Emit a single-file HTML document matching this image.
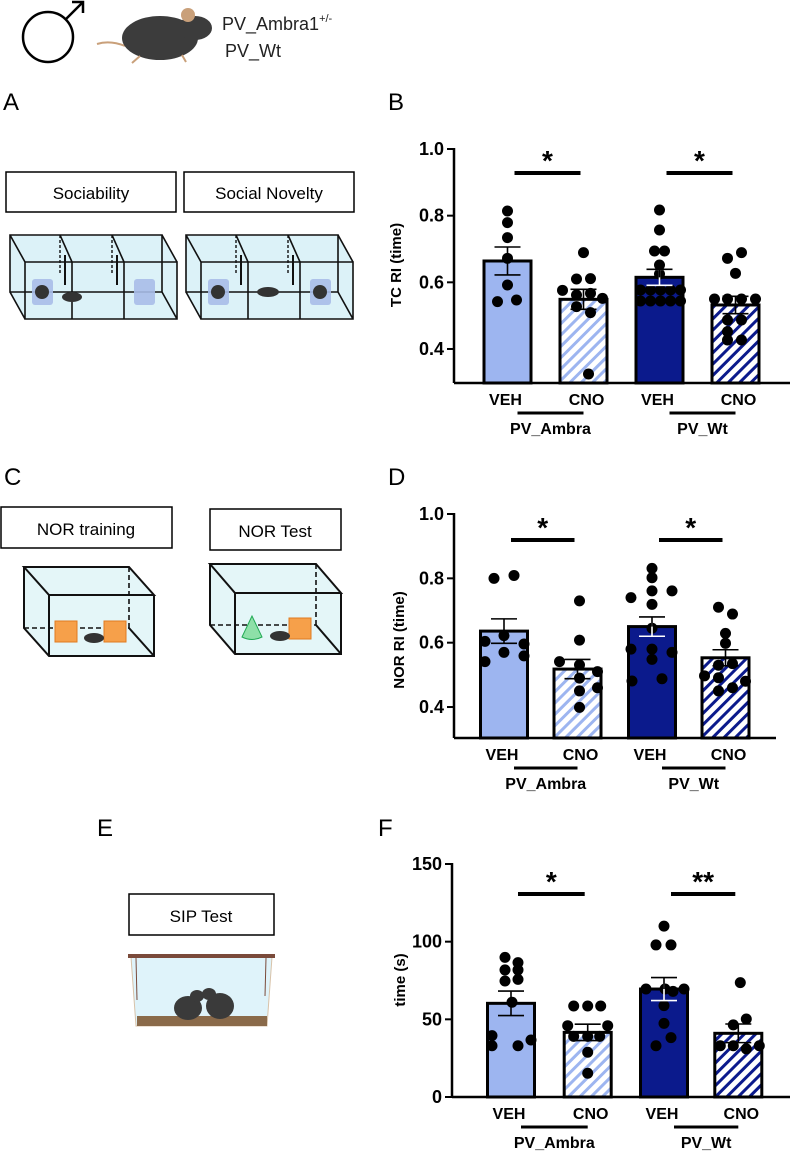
<!DOCTYPE html>
<html><head><meta charset="utf-8"><style>
html,body{margin:0;padding:0;background:#fff;}
svg{display:block;font-family:"Liberation Sans",Arial,sans-serif;}
.tk{font-weight:bold;font-size:18px;}
.xl{font-weight:bold;font-size:16px;}
.pl{font-size:24px;}
</style></head><body>
<svg id="fig" width="791" height="1154" viewBox="0 0 791 1154" xmlns="http://www.w3.org/2000/svg">
<defs>
<pattern id="hatchL" patternUnits="userSpaceOnUse" width="8" height="8" patternTransform="rotate(45)"><rect width="8" height="8" fill="#fff"/><rect width="3" height="8" fill="#9db5f0"/></pattern>
<pattern id="hatchD" patternUnits="userSpaceOnUse" width="8" height="8" patternTransform="rotate(45)"><rect width="8" height="8" fill="#fff"/><rect width="3" height="8" fill="#0b1a8c"/></pattern>
</defs>

<g>
<circle cx="48" cy="37" r="25" fill="none" stroke="#000" stroke-width="2.5"/>
<line x1="66" y1="19" x2="83" y2="2" stroke="#000" stroke-width="2.5"/>
<polyline points="72,2 83,2 83,13" fill="none" stroke="#000" stroke-width="2.5"/>
<g>
<path d="M97,44 Q110,40 125,46" stroke="#c9a07a" stroke-width="2" fill="none"/>
<ellipse cx="160" cy="38" rx="38" ry="22" fill="#3c3c3c"/>
<ellipse cx="195" cy="28" rx="17" ry="12" fill="#3c3c3c"/>
<ellipse cx="188" cy="15" rx="7" ry="7" fill="#c9a07a"/>
<path d="M140,56 l-8,7 M182,55 l4,7" stroke="#c9a07a" stroke-width="2"/>
</g>
<text x="222" y="30" font-size="18" fill="#222">PV_Ambra1<tspan font-size="11" dy="-8">+/-</tspan></text>
<text x="225" y="57" font-size="18" fill="#222">PV_Wt</text>
</g>

<text x="3" y="110" class="pl">A</text>
<text x="388" y="110" class="pl">B</text>
<text x="4" y="485" class="pl">C</text>
<text x="388" y="485" class="pl">D</text>
<text x="97" y="836" class="pl">E</text>
<text x="378" y="836" class="pl">F</text>

<g>
<rect x="6" y="172" width="170" height="40" fill="#fff" stroke="#000" stroke-width="1.5"/>
<text x="91" y="199" text-anchor="middle" font-size="17">Sociability</text>
<rect x="184" y="172" width="170" height="40" fill="#fff" stroke="#000" stroke-width="1.5"/>
<text x="269" y="199" text-anchor="middle" font-size="17">Social Novelty</text>
<g id="cages"></g>
</g>

<g>
<rect x="1" y="507" width="171" height="41" fill="#fff" stroke="#000" stroke-width="1.5"/>
<text x="86" y="535" text-anchor="middle" font-size="17">NOR training</text>
<rect x="210" y="509" width="131" height="41" fill="#fff" stroke="#000" stroke-width="1.5"/>
<text x="275" y="537" text-anchor="middle" font-size="17">NOR Test</text>
<g id="norcages"></g>
</g>

<g>
<rect x="129" y="894" width="145" height="41" fill="#fff" stroke="#000" stroke-width="1.5"/>
<text x="201" y="922" text-anchor="middle" font-size="17">SIP Test</text>
<path d="M131,957 L136,1026 L267,1026 L272,957 Z" fill="#dff3fa" stroke="#d8c2a8" stroke-width="1"/>
<rect x="137" y="1016" width="130" height="10" fill="#8a6a4a"/>
<rect x="128" y="954" width="147" height="4" fill="#7a4a3a"/>
<line x1="136" y1="958" x2="137" y2="1000" stroke="#7a4a3a"/>
<line x1="266" y1="958" x2="265" y2="996" stroke="#7a4a3a"/>
<ellipse cx="188" cy="1008" rx="14" ry="12" fill="#3a3a3a"/>
<ellipse cx="197" cy="996" rx="7" ry="6" fill="#3a3a3a"/>
<ellipse cx="220" cy="1006" rx="14" ry="13" fill="#3a3a3a"/>
<ellipse cx="209" cy="994" rx="7" ry="6" fill="#3a3a3a"/>
</g>

<g id="chartB"></g>
<g id="chartD"></g>
<g id="chartF"></g>
</svg>
<script>
const NS='http://www.w3.org/2000/svg';
function mk(p,tag,at){const e=document.createElementNS(NS,tag);for(const k in at)e.setAttribute(k,at[k]);p.appendChild(e);return e;}

(function(){
 const g=document.getElementById('cages');
 function cage3(ox){
  const bx=ox, by=235, fx=ox+15, fy=262, w=152, h=57;
  mk(g,'path',{d:`M${bx},${by} L${bx+w},${by} L${fx+w},${fy} L${fx+w},${fy+h} L${fx},${fy+h} L${bx},${by+h} Z`,fill:'#dcf2f8',stroke:'none'});
  mk(g,'path',{d:`M${bx},${by} L${bx+w},${by} L${bx+w},${by+h} L${bx},${by+h} Z M${fx},${fy} L${fx+w},${fy} L${fx+w},${fy+h} L${fx},${fy+h} Z M${bx},${by} L${fx},${fy} M${bx+w},${by} L${fx+w},${fy} M${bx},${by+h} L${fx},${fy+h} M${bx+w},${by+h} L${fx+w},${fy+h}`,fill:'none',stroke:'#111','stroke-width':1.6});
  [47,99].forEach(d=>{
   mk(g,'line',{x1:fx+d,y1:fy,x2:fx+d,y2:fy+h,stroke:'#111','stroke-width':1.6});
   mk(g,'line',{x1:bx+d+3,y1:by,x2:fx+d,y2:fy,stroke:'#111','stroke-width':1.6});
   mk(g,'line',{x1:bx+d+3,y1:by,x2:bx+d+3,y2:by+40,stroke:'#111','stroke-width':1.4,'stroke-dasharray':'3,2'});
   mk(g,'line',{x1:bx+d+8,y1:by+20,x2:bx+d+8,y2:by+50,stroke:'#111','stroke-width':2});
  });
 }
 cage3(10); cage3(186);
 [[42,1],[144,0],[218,1],[320,1]].forEach(c=>{
  mk(g,'rect',{x:c[0]-10,y:279,width:21,height:26,rx:3,fill:'#a8bde8',opacity:0.9});
  if(c[1])mk(g,'ellipse',{cx:c[0],cy:292,rx:7,ry:7,fill:'#333'});
 });
 mk(g,'ellipse',{cx:72,cy:297,rx:10,ry:5,fill:'#333'});
 mk(g,'ellipse',{cx:268,cy:292,rx:11,ry:5,fill:'#333'});
 const n=document.getElementById('norcages');
 function box(bx,by,fx,fy,w,h,bb){
  mk(n,'path',{d:`M${bx},${by} L${bx+w},${by} L${fx+w},${fy} L${fx+w},${fy+h} L${fx},${fy+h} L${bx},${bb} Z`,fill:'#e4f6f8'});
  mk(n,'path',{d:`M${bx},${by} L${bx+w},${by} L${fx+w},${fy} L${fx},${fy} Z M${bx},${by} L${bx},${bb} L${fx},${fy+h} L${fx+w},${fy+h} L${fx+w},${fy} M${fx},${fy} L${fx},${fy+h} M${bx+w},${bb} L${fx+w},${fy+h}`,fill:'none',stroke:'#111','stroke-width':2});
  mk(n,'path',{d:`M${bx},${bb} L${bx+w},${bb} M${bx+w},${by} L${bx+w},${bb}`,fill:'none',stroke:'#111','stroke-width':1.6,'stroke-dasharray':'5,3'});
 }
 box(24,567,49,595,105,61,628);
 box(210,564,235,593,106,61,625);
 [[55,621],[104,621],[289,618]].forEach(c=>mk(n,'rect',{x:c[0],y:c[1],width:22,height:21,fill:'#f6a04a',stroke:'#e07a20'}));
 mk(n,'path',{d:'M252,616 L242,637 Q252,642 262,637 Z',fill:'#8ee0a8',stroke:'#22aa55'});
 mk(n,'ellipse',{cx:94,cy:638,rx:10,ry:5,fill:'#333'});
 mk(n,'ellipse',{cx:280,cy:636,rx:10,ry:5,fill:'#333'});
})();

const groups=['VEH','CNO','VEH','CNO'];
const genotypes=['PV_Ambra','PV_Wt'];
// Chart B (TC RI)
const bMeans=[0.664,0.549,0.615,0.532];
const bSem=[0.042,0.030,0.024,0.026];
const bPts1=[0.814,0.779,0.734,0.672,0.592,0.542,0.547];
const bPts2=[0.689,0.610,0.611,0.576,0.562,0.567,0.552,0.527,0.509,0.325];
const bPts3=[0.817,0.757,0.694,0.694,0.652,0.625,0.577,0.577,0.577,0.577,0.577,0.544,0.544,0.544,0.544,0.544];
const bPts4=[0.689,0.672,0.627,0.550,0.550,0.550,0.550,0.487,0.487,0.452,0.427,0.427];
const bTicks=[0.4,0.6,0.8,1.0];
const bSig=['*','*'];
// Chart D (NOR RI)
const dMeans=[0.636,0.518,0.650,0.553];
const dSem=[0.038,0.030,0.030,0.025];
const dPts1=[0.800,0.809,0.622,0.604,0.596,0.570,0.541,0.559];
const dPts2=[0.730,0.608,0.541,0.531,0.510,0.490,0.450,0.460,0.399];
const dPts3=[0.831,0.802,0.761,0.761,0.740,0.719,0.645,0.580,0.580,0.570,0.548,0.481,0.488];
const dPts4=[0.710,0.689,0.629,0.598,0.530,0.535,0.497,0.491,0.480,0.450,0.460];
const dTicks=[0.4,0.6,0.8,1.0];
const dSig=['*','*'];
// Chart F (SIP time)
const fMeans=[60.3,41.6,69.5,41.0];
const fSem=[7.9,5.3,7.4,6.0];
const fPts1=[89.9,86.5,81.8,81.8,74.7,75.7,61.0,39.5,33.0,33.0,36.7];
const fPts2=[58.6,58.6,58.6,45.9,45.9,39.0,39.0,39.0,28.8,15.3];
const fPts3=[110,97.9,97.9,69.5,69.5,69.5,68.0,58.8,47.4,38.2,33.0];
const fPts4=[73.6,50.2,46.4,33.0,33.0,31.0,33.0];
const fTicks=[0,50,100,150];
const fSig=['*','**'];
const jB=[[0,0,0,0,0,-10,9],[0,-7,7,-21,-7,7,19,-7,7,5],[0,0,-5,5,0,0,-19,-9,1,11,21,-19,-9,1,11,21],[6,-8,0,-21,-8,6,20,-8,6,-8,-8,6]];
const jD=[[-10,10,0,-19,20,0,-19,20],[2,2,-18,2,20,2,2,20,2],[0,0,0,20,-21,0,0,-21,0,20,0,-20,10],[-7,7,0,0,-7,7,-21,-7,20,-7,7]];
const jF=[[-6,7,-6,7,-6,7,1,-19,-19,7,20],[-14,0,13,-20,20,-14,0,12,0,0],[0,-8,7,-18,1,20,9,0,0,7,-8],[2,8,-5,-18,-5,8,21]];

const fills=['#9db5f0','url(#hatchL)','#0b1a8c','url(#hatchD)'];

function drawChart(id,cfg){
 const g=document.getElementById(id);
 const y=v=>cfg.yTop+(cfg.vTop-v)*cfg.k;
 const ax=cfg.axX, bot=cfg.bottom;
 cfg.means.forEach((m,i)=>{
  const cx=cfg.cx[i], w=47;
  const r=mk(g,'rect',{x:cx-w/2,y:y(m),width:w,height:bot-y(m),fill:fills[i],stroke:'#000','stroke-width':3});
  
  
 });
 cfg.pts.forEach((arr,i)=>{
  arr.forEach((v,j)=>{
   const c=mk(g,'circle',{cx:cfg.cx[i]+cfg.jit[i][j],cy:y(v),r:5.5,fill:'#000'});
   
   
  });
 });
 cfg.means.forEach((m,i)=>{
  const cx=cfg.cx[i], s=cfg.sem[i];
  const e=mk(g,'path',{d:`M${cx},${y(m+s)} L${cx},${y(m-s)} M${cx-13},${y(m+s)} L${cx+13},${y(m+s)} M${cx-13},${y(m-s)} L${cx+13},${y(m-s)}`,stroke:i==2?'#fff':'#000','stroke-width':1.6,fill:'none'});
  
  
  if(i==2){mk(g,'path',{d:`M${cx},${y(m+s)} L${cx},${y(m)} M${cx-13},${y(m+s)} L${cx+13},${y(m+s)}`,stroke:'#000','stroke-width':1.6});}
 });
 const ya=mk(g,'line',{x1:ax,y1:y(cfg.ticks[cfg.ticks.length-1])-1,x2:ax,y2:bot,stroke:'#000','stroke-width':2.5});
 
 
 const xa=mk(g,'line',{x1:ax,y1:bot,x2:cfg.axEnd,y2:bot,stroke:'#000','stroke-width':2.5});
 
 
 cfg.ticks.forEach(t=>{
  mk(g,'line',{x1:ax-7,y1:y(t),x2:ax,y2:y(t),stroke:'#000','stroke-width':2});
  const tl=mk(g,'text',{x:ax-10,y:y(t)+6,'text-anchor':'end',class:'tk'});
  tl.textContent=cfg.fmt(t);
  
  
 });
 const tt=mk(g,'text',{x:0,y:0,'text-anchor':'middle','font-size':15,'font-weight':'bold',transform:`translate(${cfg.titleX},${cfg.titleY}) rotate(-90)`});
 tt.textContent=cfg.title;
 
 
 groups.forEach((gl,i)=>{
  const t=mk(g,'text',{x:cfg.cx[i]+(i%2?3:-2),y:bot+22,'text-anchor':'middle',class:'xl'});
  t.textContent=gl;
  
  
 });
 genotypes.forEach((gn,k)=>{
  const x1=cfg.cx[2*k]+10, x2=cfg.cx[2*k+1];
  mk(g,'line',{x1:x1,y1:bot+30,x2:x2,y2:bot+30,stroke:'#000','stroke-width':3});
  const t=mk(g,'text',{x:(x1+x2)/2,y:bot+51,'text-anchor':'middle',class:'xl'});
  t.textContent=gn;
  
  
  const sx1=cfg.cx[2*k]+7, sx2=cfg.cx[2*k+1]-3;
  const sl=mk(g,'line',{x1:sx1,y1:cfg.sigY,x2:sx2,y2:cfg.sigY,stroke:'#000','stroke-width':4});
  
  
  const st=mk(g,'text',{x:(sx1+sx2)/2,y:cfg.sigY-3,'text-anchor':'middle','font-size':28,'font-weight':'bold'});
  st.textContent=cfg.sig[k];
  
  
 });
}
drawChart('chartB',{yTop:149,vTop:1.0,k:333.3,bottom:383,axX:454,axEnd:790,cx:[507.5,583.5,659.5,735.5],
 means:bMeans,sem:bSem,pts:[bPts1,bPts2,bPts3,bPts4],jit:jB,ticks:bTicks,fmt:t=>t.toFixed(1),title:'TC RI (time)',titleX:401,titleY:265,sig:bSig,sigY:173});
drawChart('chartD',{yTop:514,vTop:1.0,k:321.7,bottom:738,axX:454,axEnd:776,cx:[504,577.5,652,725.5],
 means:dMeans,sem:dSem,pts:[dPts1,dPts2,dPts3,dPts4],jit:jD,ticks:dTicks,fmt:t=>t.toFixed(1),title:'NOR RI (time)',titleX:404,titleY:640,sig:dSig,sigY:540});
drawChart('chartF',{yTop:864,vTop:150,k:1.5533,bottom:1097,axX:452,axEnd:790,cx:[511,587.7,664,738.3],
 means:fMeans,sem:fSem,pts:[fPts1,fPts2,fPts3,fPts4],jit:jF,ticks:fTicks,fmt:t=>String(t),title:'time (s)',titleX:405,titleY:980,sig:fSig,sigY:894});
</script>
</body></html>
